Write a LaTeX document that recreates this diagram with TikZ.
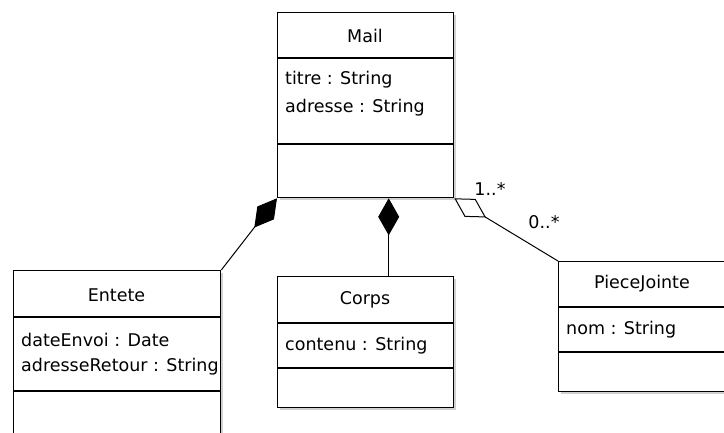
\documentclass[tikz,border=0pt]{standalone}
\usepackage{fontspec}
\setmainfont{DejaVu Sans}
\usetikzlibrary{arrows.meta,calc}
\begin{document}
\begin{tikzpicture}[x=1pt,y=-1pt,
  umlbox/.style={draw, line width=1.3pt, fill=white, inner sep=0pt, anchor=north west},
  shadowbox/.style={fill=black!18, draw=none, inner sep=0pt, anchor=north west},
  divider/.style={line width=1.3pt},
  ttl/.style={font=\fontsize{17.5}{19}\selectfont, inner sep=0pt},
  attr/.style={font=\fontsize{17.5}{19}\selectfont, inner sep=0pt, anchor=west},
  mult/.style={font=\fontsize{17.5}{19}\selectfont, inner sep=0pt},
  compo/.style={line width=1pt, -{Diamond[length=37pt,width=21pt,fill=black]}},
  aggr/.style={line width=1pt, -{Diamond[open,length=37pt,width=21pt,fill=white]}}
]
\useasboundingbox (0,0) rectangle (724,432);
\fill[white] (0,0) rectangle (724,432);

% shadows
\node[shadowbox, minimum width=176pt, minimum height=185pt] at (280,15) {};
\node[shadowbox, minimum width=207pt, minimum height=175pt] at (16,273) {};
\node[shadowbox, minimum width=176pt, minimum height=131pt] at (280,279) {};
\node[shadowbox, minimum width=180pt, minimum height=130pt] at (561,264) {};

% Mail
\node[umlbox, minimum width=176pt, minimum height=185pt] (mail) at (277,12) {};
\node[ttl] (mailt) at (365,36) {Mail};
\draw[divider] (277,58) -- (453,58);
\node[attr] (maila1) at (285,80) {titre : String};
\node[attr] (maila2) at (285,108) {adresse : String};
\draw[divider] (277,144) -- (453,144);

% Entete
\node[umlbox, minimum width=207pt, minimum height=175pt] (entete) at (13,270) {};
\node[ttl] (entetet) at (116.5,295) {Entete};
\draw[divider] (13,317) -- (220,317);
\node[attr] (entetea1) at (21,340) {dateEnvoi : Date};
\node[attr] (entetea2) at (21,367) {adresseRetour : String};
\draw[divider] (13,391) -- (220,391);

% Corps
\node[umlbox, minimum width=176pt, minimum height=131pt] (corps) at (277,276) {};
\node[ttl] (corpst) at (365,300) {Corps};
\draw[divider] (277,323) -- (453,323);
\node[attr] (corpsa1) at (285,346) {contenu : String};
\draw[divider] (277,368) -- (453,368);

% PieceJointe
\node[umlbox, minimum width=180pt, minimum height=130pt] (pj) at (558,261) {};
\node[ttl] (pjt) at (642,284) {PieceJointe};
\draw[divider] (558,307) -- (738,307);
\node[attr] (pja1) at (566,330) {nom : String};
\draw[divider] (558,352) -- (738,352);

% connectors
\draw[compo] (entete.north east) -- (mail.south west);
\coordinate (corpsend) at ($(corps.north west)!0.63!(corps.north east)$);
\draw[compo] (corpsend) -- (corpsend |- mail.south);
\draw[aggr] (pj.north west) -- (mail.south east);

% multiplicities
\node[mult] (m1) at (490,189) {1..*};
\node[mult] (m2) at (544,222) {0..*};
\end{tikzpicture}
\end{document}
